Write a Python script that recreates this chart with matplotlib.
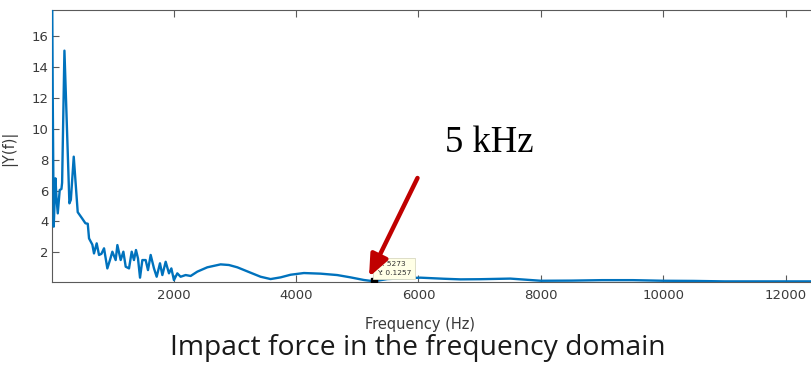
import matplotlib
matplotlib.use("Agg")
import matplotlib.pyplot as plt

# Spectrum
freq_hz = [15, 25, 41, 69, 85, 107, 139, 167, 178, 216, 297, 321, 368, 433, 504, 559, 597,
           618, 672, 699, 743, 781, 820, 863, 917, 960, 999, 1053, 1081, 1135, 1179, 1217,
           1271, 1315, 1352, 1385, 1418, 1451, 1489, 1543, 1581, 1625, 1679, 1723, 1777,
           1816, 1870, 1924, 1963, 2005, 2060, 2114, 2196, 2278, 2387, 2550, 2767, 2903,
           3041, 3258, 3421, 3584, 3748, 3911, 4128, 4400, 4672, 4890, 5108, 5273, 5490,
           5761, 6034, 6414, 6687, 7000, 7500, 8000, 8500, 9000, 9500, 10000, 10500, 11000,
           11500, 12000, 12400]
magnitude = [19.0, 12.0, 3.66, 6.79, 5.6, 4.52, 6.03, 6.1, 6.5, 15.05, 5.17, 5.4, 8.19, 4.6,
             4.2, 3.88, 3.85, 2.9, 2.5, 1.93, 2.58, 1.83, 1.9, 2.26, 0.96, 1.5, 2.04, 1.5,
             2.47, 1.5, 2.04, 1.07, 0.96, 2.04, 1.5, 2.15, 1.6, 0.36, 1.5, 1.5, 0.85, 1.83,
             0.96, 0.42, 1.29, 0.53, 1.39, 0.64, 0.96, 0.2, 0.64, 0.42, 0.53, 0.47, 0.75,
             1.03, 1.22, 1.18, 1.03, 0.68, 0.42, 0.27, 0.38, 0.55, 0.66, 0.62, 0.53, 0.38,
             0.21, 0.1257, 0.27, 0.32, 0.36, 0.29, 0.25, 0.26, 0.3, 0.16, 0.17, 0.2, 0.2,
             0.16, 0.15, 0.12, 0.12, 0.12, 0.12]

xticks = [2000, 4000, 6000, 8000, 10000, 12000]
yticks = [2, 4, 6, 8, 10, 12, 14, 16]
tip_x, tip_y = 5273, 0.1257

W, H = 811, 367
fig = plt.figure(figsize=(W / 100, H / 100), dpi=100)
ax = fig.add_axes([51.7 / W, (H - 282) / H, (W - 51.7) / W, 272 / H])

ax.plot(freq_hz, magnitude, color="#0072BD", lw=1.7, solid_joinstyle="round", zorder=3)
ax.set_xlim(8, 12413)
ax.set_ylim(0.08, 17.68)
ax.set_xticks(xticks)
ax.set_yticks(yticks)
ax.set_xticklabels([str(t) for t in xticks])
ax.set_yticklabels([str(t) for t in yticks])

axc = "#5a5a5a"
for s in ["left", "bottom", "top"]:
    ax.spines[s].set_color(axc)
    ax.spines[s].set_linewidth(0.8)
    ax.spines[s].set_zorder(2)
ax.spines["right"].set_visible(False)
ax.tick_params(axis="both", direction="in", length=5, width=0.8, color=axc,
               labelsize=9.5, labelcolor="#3a3a3a")
ax.tick_params(axis="x", top=True, pad=5)
ax.tick_params(axis="y", pad=2)

ax.set_xlabel("Frequency (Hz)", fontsize=10.5, color="#3a3a3a")
ax.xaxis.set_label_coords((420 - 51.7) / (W - 51.7), (282 - 317) / 272)
ax.set_ylabel("|Y(f)|", fontsize=10.5, color="#3a3a3a")
ax.yaxis.set_label_coords((17 - 51.7) / (W - 51.7), (282 - 148) / 272)

# data tip
ax.plot([tip_x], [tip_y], marker="s", color="black", markersize=4, zorder=5)
ax.annotate(f"X: {tip_x}\nY: {tip_y}", xy=(tip_x, tip_y), xytext=(2, 4),
            textcoords="offset points", ha="left", va="bottom", fontsize=5.3,
            color="#333333", linespacing=1.5,
            bbox=dict(boxstyle="square,pad=0.5", fc="#FFFFE6", ec="#d8d8c0", lw=0.6),
            zorder=6)

# red arrow
arrow = ax.annotate("", xy=(369 / W, 1 - 277 / H), xycoords="figure fraction",
                    xytext=(417.5 / W, 1 - 178 / H), textcoords="figure fraction",
                    arrowprops=dict(arrowstyle="-|>,head_length=1.3,head_width=0.55",
                                    color="#C00000", lw=3.2, shrinkA=0, shrinkB=0),
                    annotation_clip=False)
arrow.set_zorder(10)

fig.text(445 / W, 1 - 152 / H, "5 kHz", family="Liberation Serif", fontsize=26.5,
         ha="left", va="baseline", color="black")
fig.text(418 / W, 1 - 355 / H, "Impact force in the frequency domain",
         family="Open Sans", fontsize=20.3, ha="center", va="baseline", color="#1a1a1a")

fig.savefig("out.png", dpi=100)
